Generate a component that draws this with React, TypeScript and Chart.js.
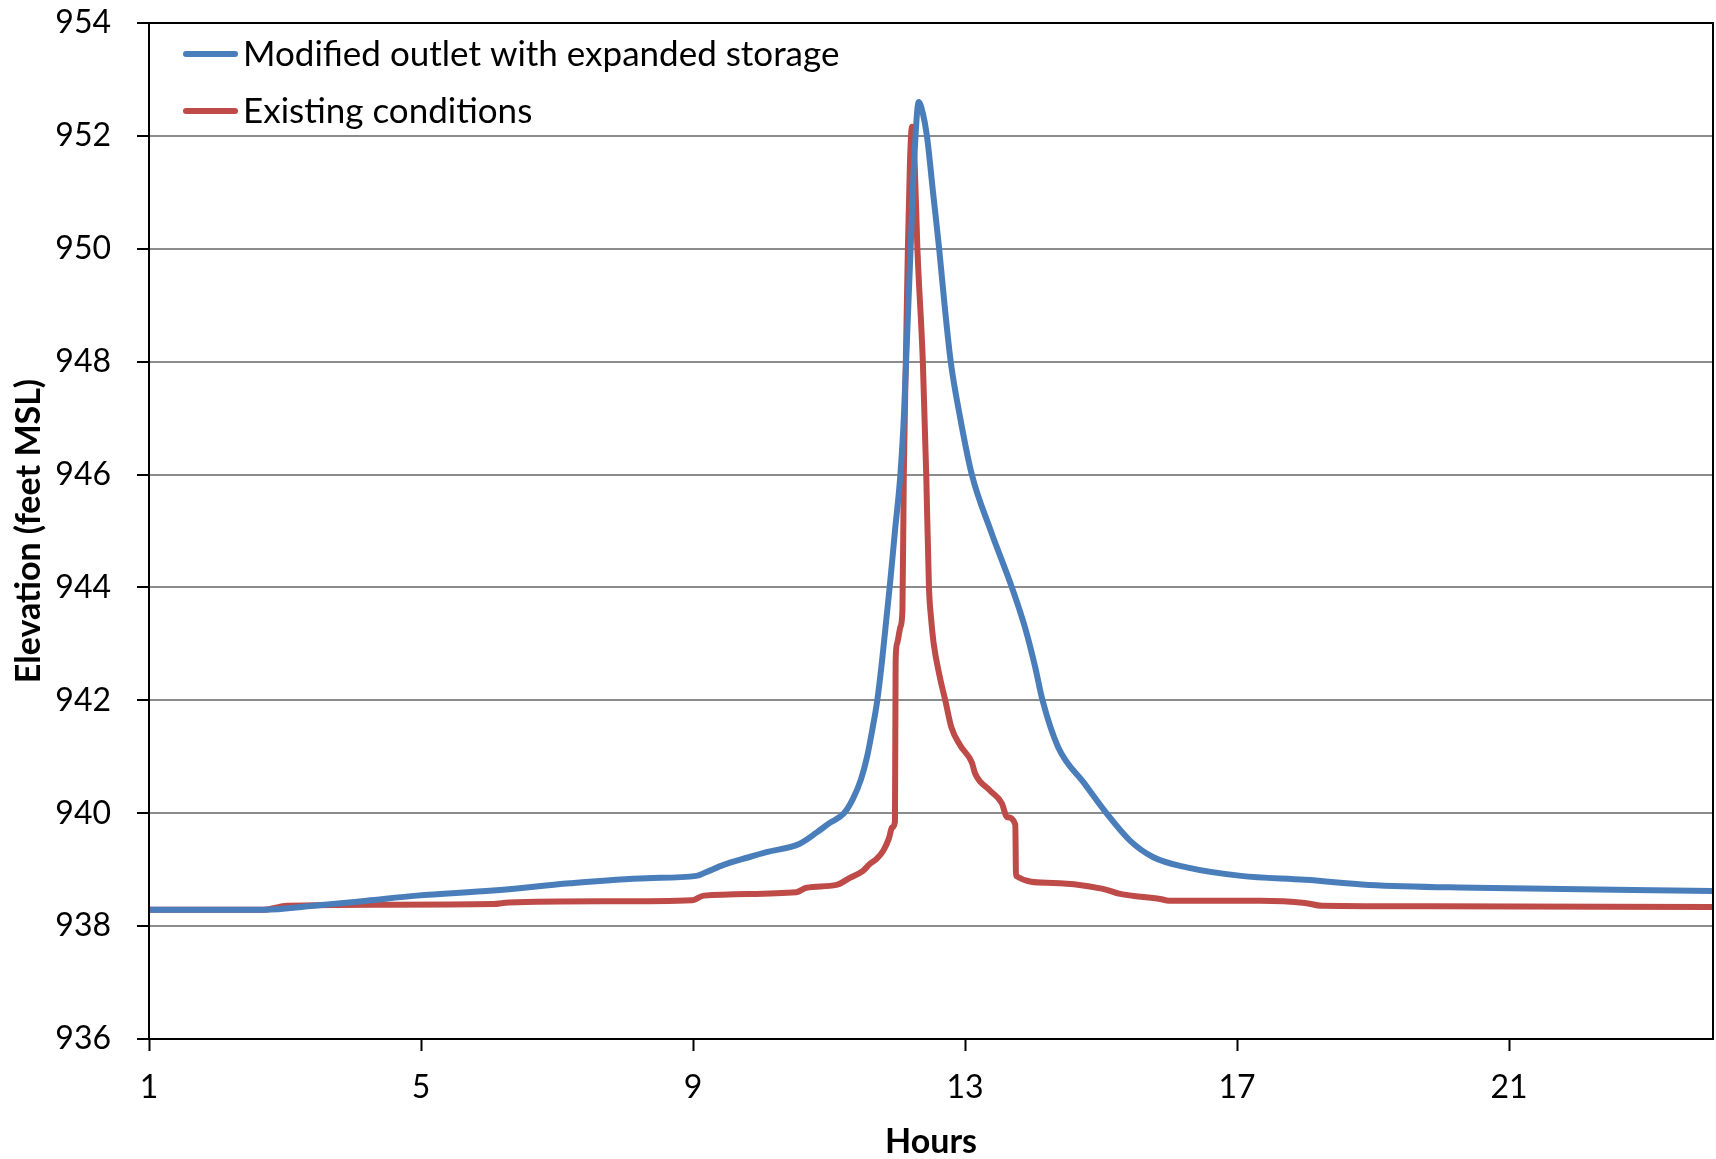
import React, { useEffect, useRef } from "react";
import { Chart, registerables } from "chart.js";

Chart.register(...registerables);

const seriesNames = ["Modified outlet with expanded storage", "Existing conditions"];
const seriesColors = ["#4A7EBB", "#BE4B48"];

const modifiedHours = [1, 2.0, 2.69, 3.42, 4.2, 4.94, 6.06, 7.19, 8.32, 9.05, 9.2, 9.44, 9.82, 10.08, 10.57, 10.82, 11.0, 11.22, 11.35, 11.47, 11.56, 11.64, 11.71, 11.78, 11.84, 11.9, 11.97, 12.05, 12.1, 12.15, 12.2, 12.25, 12.32, 12.38, 12.44, 12.53, 12.62, 12.7, 12.79, 12.93, 13.1, 13.38, 13.69, 13.88, 14.03, 14.14, 14.37, 14.76, 15.08, 15.43, 15.77, 16.26, 17.06, 18.0, 18.94, 20.5, 24];
const modifiedElev = [938.29, 938.29, 938.29, 938.36, 938.45, 938.54, 938.63, 938.76, 938.85, 938.89, 938.96, 939.08, 939.22, 939.31, 939.46, 939.66, 939.82, 940.0, 940.25, 940.6, 941.0, 941.5, 942.0, 942.7, 943.4, 944.1, 945.0, 946.0, 947.0, 948.5, 950.0, 951.5, 952.6, 952.4, 952.0, 951.0, 950.0, 949.0, 948.0, 947.0, 946.0, 945.0, 944.0, 943.3, 942.6, 942.0, 941.17, 940.52, 940.0, 939.51, 939.22, 939.04, 938.89, 938.82, 938.73, 938.68, 938.62];

const existingHours = [1, 2.69, 3.03, 4.38, 6.06, 6.29, 7.75, 8.99, 9.16, 10.52, 10.67, 11.11, 11.3, 11.5, 11.6, 11.7, 11.8, 11.88, 11.93, 11.97, 11.98, 12.0, 12.05, 12.08, 12.1, 12.13, 12.16, 12.19, 12.22, 12.26, 12.3, 12.38, 12.43, 12.47, 12.5, 12.54, 12.63, 12.71, 12.8, 12.93, 13.1, 13.15, 13.37, 13.54, 13.62, 13.74, 13.75, 14.2, 15.03, 15.28, 15.87, 16.0, 17.34, 18.0, 18.25, 19.87, 24];
const existingElev = [938.29, 938.29, 938.36, 938.38, 938.39, 938.42, 938.44, 938.46, 938.54, 938.6, 938.68, 938.73, 938.85, 938.98, 939.1, 939.19, 939.34, 939.55, 939.75, 939.85, 942.7, 943.0, 943.3, 943.6, 946.0, 948.0, 950.0, 951.5, 952.16, 951.5, 950.0, 948.0, 946.0, 944.0, 943.47, 943.0, 942.41, 942.0, 941.52, 941.2, 940.9, 940.7, 940.4, 940.18, 939.93, 939.8, 938.89, 938.77, 938.66, 938.57, 938.48, 938.45, 938.45, 938.41, 938.36, 938.35, 938.34];

const hourTicks = [1, 5, 9, 13, 17, 21];
const elevMin = 936;
const elevMax = 954;
const elevStep = 2;

const FONT = "Lato, 'Open Sans', sans-serif";

const framePlugin = {
  id: "frameLegend",
  afterDatasetsDraw(chart: any) {
    const { ctx, chartArea } = chart;
    ctx.save();
    ctx.strokeStyle = "#000";
    ctx.lineWidth = 2;
    ctx.strokeRect(chartArea.left, chartArea.top, chartArea.right - chartArea.left, chartArea.bottom - chartArea.top);
    const rows = [54, 111];
    seriesNames.forEach((name, i) => {
      const y = rows[i];
      ctx.strokeStyle = seriesColors[i];
      ctx.lineWidth = 6;
      ctx.lineCap = "round";
      ctx.beginPath();
      ctx.moveTo(186, y);
      ctx.lineTo(235, y);
      ctx.stroke();
      ctx.fillStyle = "#000";
      ctx.font = `35px ${FONT}`;
      ctx.textBaseline = "middle";
      ctx.textAlign = "left";
      ctx.fillText(name, 243, y + 1);
    });
    ctx.restore();
  },
};

export default function App() {
  const ref = useRef<HTMLCanvasElement | null>(null);
  useEffect(() => {
    document.body.style.margin = "0";
    const canvas = ref.current;
    if (!canvas) return;
    const toPts = (xs: number[], ys: number[]) => xs.map((x, i) => ({ x, y: ys[i] }));
    const chart = new Chart(canvas, {
      type: "line",
      data: {
        datasets: [
          {
            label: seriesNames[0],
            data: toPts(modifiedHours, modifiedElev),
            borderColor: seriesColors[0],
            borderWidth: 6,
            pointRadius: 0,
            cubicInterpolationMode: "monotone",
            borderJoinStyle: "round",
            borderCapStyle: "round",
          },
          {
            label: seriesNames[1],
            data: toPts(existingHours, existingElev),
            borderColor: seriesColors[1],
            borderWidth: 6,
            pointRadius: 0,
            cubicInterpolationMode: "monotone",
            borderJoinStyle: "round",
            borderCapStyle: "round",
          },
        ],
      },
      options: {
        responsive: false,
        devicePixelRatio: 1,
        animation: false,
        layout: { padding: { left: 0, top: 23, right: 3, bottom: 0 } },
        plugins: { legend: { display: false }, tooltip: { enabled: false } },
        scales: {
          x: {
            type: "linear",
            min: 1,
            max: 24,
            afterBuildTicks: (s: any) => {
              s.ticks = hourTicks.map((v) => ({ value: v }));
            },
            afterFit: (s: any) => {
              s.height = 120;
              s.paddingLeft = 0;
              s.paddingRight = 0;
            },
            grid: { drawOnChartArea: false, tickLength: 12, tickColor: "#000", tickWidth: 2 },
            border: { color: "#000", width: 2 },
            ticks: { color: "#000", font: { family: FONT, size: 32 }, padding: 17, maxRotation: 0, autoSkip: false },
            title: { display: true, text: "Hours", color: "#000", font: { family: FONT, size: 34, weight: "bold" }, padding: { top: 0, bottom: -3 } },
          },
          y: {
            type: "linear",
            min: elevMin,
            max: elevMax,
            ticks: { stepSize: elevStep, color: "#000", font: { family: FONT, size: 32 }, padding: 26 },
            afterFit: (s: any) => {
              s.width = 149;
              s.paddingTop = 0;
              s.paddingBottom = 0;
            },
            grid: { color: "#8c8c8c", lineWidth: 2, tickLength: 12, tickColor: "#000", tickWidth: 2 },
            border: { color: "#000", width: 2 },
            title: { display: true, text: "Elevation (feet MSL)", color: "#000", font: { family: FONT, size: 34, weight: "bold" }, padding: { top: 9, bottom: 0 } },
          },
        },
      },
      plugins: [framePlugin],
    } as any);
    return () => chart.destroy();
  }, []);
  return <canvas ref={ref} width={1716} height={1159} style={{ display: "block", width: 1716, height: 1159 }} />;
}
